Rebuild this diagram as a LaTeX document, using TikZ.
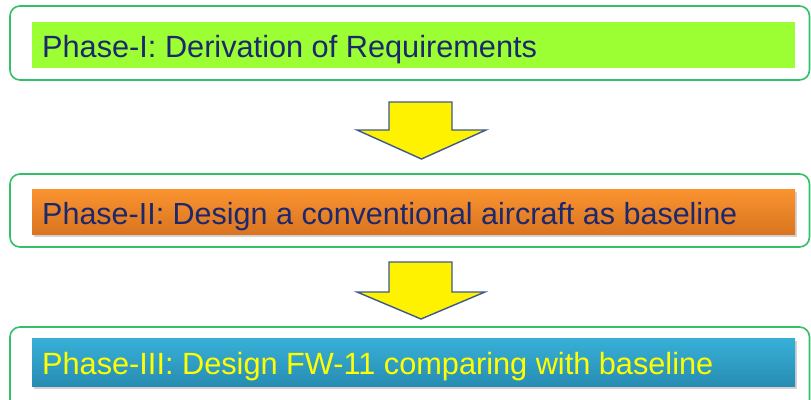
\documentclass[tikz,border=0pt]{standalone}
\usepackage{fontspec}
\setmainfont{Liberation Sans}
\usetikzlibrary{shadows}
\definecolor{framegreen}{RGB}{52,192,104}
\definecolor{limebar}{RGB}{155,255,51}
\definecolor{orangetop}{RGB}{250,148,48}
\definecolor{orangebot}{RGB}{218,116,32}
\definecolor{bluetop}{RGB}{56,176,216}
\definecolor{bluebot}{RGB}{40,140,178}
\definecolor{navytext}{RGB}{28,40,110}
\definecolor{arrowedge}{RGB}{60,90,140}
\definecolor{labelyellow}{RGB}{255,255,0}
\tikzset{
  frame/.style={draw=framegreen, line width=1.6pt, rounded corners=10pt, fill=white},
  bar/.style={draw=none, minimum width=763pt, minimum height=46pt, inner sep=0pt, outer sep=0pt},
  phasetext/.style={anchor=base west, inner sep=0pt, font=\fontsize{30.7}{34}\selectfont},
  blockarrow/.style={fill=yellow, draw=arrowedge, line width=1.4pt, line join=miter}
}
\begin{document}
\begin{tikzpicture}[x=1pt,y=-1pt]
\useasboundingbox (0,0) rectangle (811,399);
\clip (0,0) rectangle (811,399);
\fill[white] (0,0) rectangle (811,399);

% Phase I
\draw[frame] (10,6) rectangle (809.5,80);
\node[bar, fill=limebar] (bar1) at (413.5,45) {};
\node[phasetext, text=navytext] (t1) at (42,57) {Phase-I: Derivation of Requirements};

% Phase II
\draw[frame] (10,174) rectangle (809.5,247);
\node[bar, minimum height=45pt, top color=orangetop, bottom color=orangebot,
      drop shadow={opacity=0.35, shadow xshift=1.5pt, shadow yshift=-2.5pt}] (bar2) at (413.5,211.5) {};
\node[phasetext, text=navytext, font=\fontsize{30.5}{34}\selectfont] (t2) at (42,224) {Phase-II: Design a conventional aircraft as baseline};

% Phase III
\draw[frame] (10,327) rectangle (809.5,420);
\node[bar, minimum height=48pt, top color=bluetop, bottom color=bluebot,
      drop shadow={opacity=0.35, shadow xshift=1.5pt, shadow yshift=-2.5pt}] (bar3) at (413.5,362) {};
\node[phasetext, text=labelyellow] (t3) at (42,374) {Phase-III: Design FW-11 comparing with baseline};

% Down arrows between the phases
\draw[blockarrow] (389,102) -- (452,102) -- (452,130) -- (486,130) -- (421.5,159)
  -- (357,130) -- (389,130) -- cycle;
\draw[blockarrow] (389,262) -- (452,262) -- (452,292) -- (485,292) -- (421,319)
  -- (357,292) -- (389,292) -- cycle;
\end{tikzpicture}
\end{document}
